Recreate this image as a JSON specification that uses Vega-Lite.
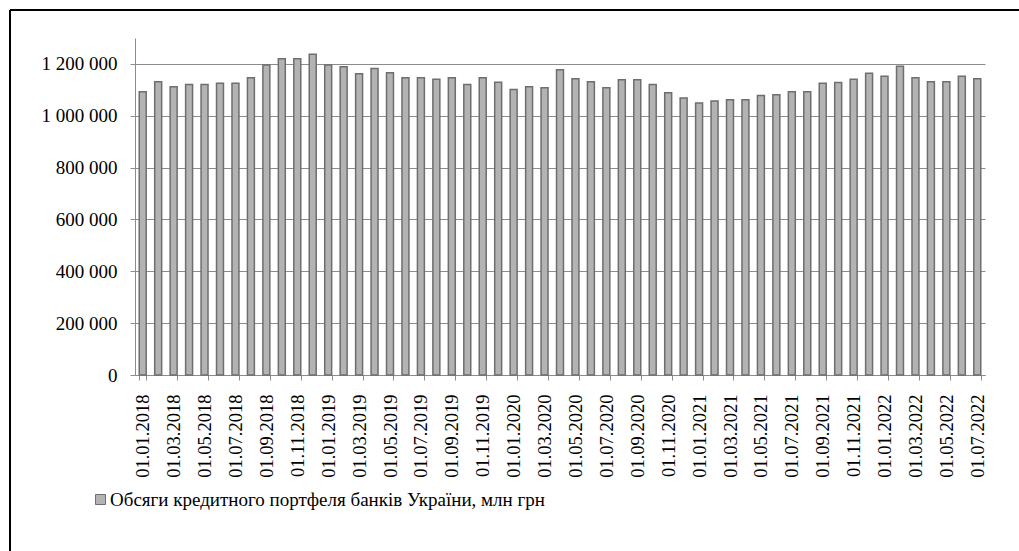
{
  "$schema": "https://vega.github.io/schema/vega-lite/v6.json",
  "width": 1009,
  "height": 541,
  "autosize": "none",
  "padding": {"left": 10, "top": 10, "right": 0, "bottom": 0},
  "background": "white",
  "config": {
    "font": "Liberation Serif",
    "view": {"stroke": "#000000", "strokeWidth": 2, "strokeDash": [1009, 1550, 541, 0]},
    "axis": {"labelFont": "Liberation Serif", "labelColor": "#000", "domainColor": "#8c8c8c", "tickColor": "#8c8c8c", "gridColor": "#8c8c8c", "gridOpacity": 1, "domainWidth": 1, "tickWidth": 1, "gridWidth": 1},
    "legend": {"labelFont": "Liberation Serif"}
  },
  "data": {"values": [
    {"date": "01.01.2018", "v": 1093000}, {"date": "01.02.2018", "v": 1131600}, {"date": "01.03.2018", "v": 1112000}, {"date": "01.04.2018", "v": 1121000},
    {"date": "01.05.2018", "v": 1121000}, {"date": "01.06.2018", "v": 1125000}, {"date": "01.07.2018", "v": 1125000}, {"date": "01.08.2018", "v": 1147000},
    {"date": "01.09.2018", "v": 1196000}, {"date": "01.10.2018", "v": 1220000}, {"date": "01.11.2018", "v": 1220000}, {"date": "01.12.2018", "v": 1237000},
    {"date": "01.01.2019", "v": 1196000}, {"date": "01.02.2019", "v": 1189000}, {"date": "01.03.2019", "v": 1162000}, {"date": "01.04.2019", "v": 1182000},
    {"date": "01.05.2019", "v": 1166000}, {"date": "01.06.2019", "v": 1147000}, {"date": "01.07.2019", "v": 1147000}, {"date": "01.08.2019", "v": 1141000},
    {"date": "01.09.2019", "v": 1147000}, {"date": "01.10.2019", "v": 1121000}, {"date": "01.11.2019", "v": 1147000}, {"date": "01.12.2019", "v": 1129000},
    {"date": "01.01.2020", "v": 1101000}, {"date": "01.02.2020", "v": 1112000}, {"date": "01.03.2020", "v": 1108000}, {"date": "01.04.2020", "v": 1178000},
    {"date": "01.05.2020", "v": 1143000}, {"date": "01.06.2020", "v": 1131600}, {"date": "01.07.2020", "v": 1108000}, {"date": "01.08.2020", "v": 1139000},
    {"date": "01.09.2020", "v": 1139000}, {"date": "01.10.2020", "v": 1121000}, {"date": "01.11.2020", "v": 1089000}, {"date": "01.12.2020", "v": 1068700},
    {"date": "01.01.2021", "v": 1049000}, {"date": "01.02.2021", "v": 1057000}, {"date": "01.03.2021", "v": 1062000}, {"date": "01.04.2021", "v": 1062000},
    {"date": "01.05.2021", "v": 1078000}, {"date": "01.06.2021", "v": 1081000}, {"date": "01.07.2021", "v": 1093000}, {"date": "01.08.2021", "v": 1093000},
    {"date": "01.09.2021", "v": 1125000}, {"date": "01.10.2021", "v": 1128000}, {"date": "01.11.2021", "v": 1141000}, {"date": "01.12.2021", "v": 1164000},
    {"date": "01.01.2022", "v": 1152000}, {"date": "01.02.2022", "v": 1191000}, {"date": "01.03.2022", "v": 1147000}, {"date": "01.04.2022", "v": 1131600},
    {"date": "01.05.2022", "v": 1131600}, {"date": "01.06.2022", "v": 1152000}, {"date": "01.07.2022", "v": 1143000}
  ]},
  "mark": {"type": "bar", "stroke": "#6e6e6e", "strokeWidth": 1.5},
  "encoding": {
    "x": {
      "field": "date", "type": "ordinal", "sort": null, "title": null,
      "scale": {"paddingInner": 0.55, "paddingOuter": 0.275, "range": [125, 975]},
      "axis": {
        "values": ["01.01.2018","01.03.2018","01.05.2018","01.07.2018","01.09.2018","01.11.2018","01.01.2019","01.03.2019","01.05.2019","01.07.2019","01.09.2019","01.11.2019","01.01.2020","01.03.2020","01.05.2020","01.07.2020","01.09.2020","01.11.2020","01.01.2021","01.03.2021","01.05.2021","01.07.2021","01.09.2021","01.11.2021","01.01.2022","01.03.2022","01.05.2022","01.07.2022"],
        "offset": -176,
        "tickBand": "extent", "labelAngle": 270, "labelFontSize": 18.5, "labelPadding": 14, "tickSize": 5, "grid": false, "labelOverlap": false
      }
    },
    "y": {
      "field": "v", "type": "quantitative", "title": null,
      "scale": {"domain": [0, 1300000], "nice": false, "range": [365, 28]},
      "axis": {
        "values": [0, 200000, 400000, 600000, 800000, 1000000, 1200000],
        "offset": -125,
        "labelExpr": "replace(replace(format(datum.value, ','), ',', ' '), ',', ' ')",
        "labelFontSize": 19, "labelPadding": 13, "tickSize": 5, "grid": true
      }
    },
    "color": {
      "datum": "Обсяги кредитного портфеля банків України, млн грн",
      "scale": {"range": ["#b3b3b3"]},
      "legend": {
        "title": null, "orient": "none", "legendX": 81, "legendY": 480,
        "symbolType": "square", "symbolSize": 100, "symbolStrokeColor": "#6e6e6e", "symbolStrokeWidth": 1,
        "labelFontSize": 19, "labelColor": "#000", "labelOffset": 0, "padding": 0, "labelLimit": 800
      }
    }
  }
}
